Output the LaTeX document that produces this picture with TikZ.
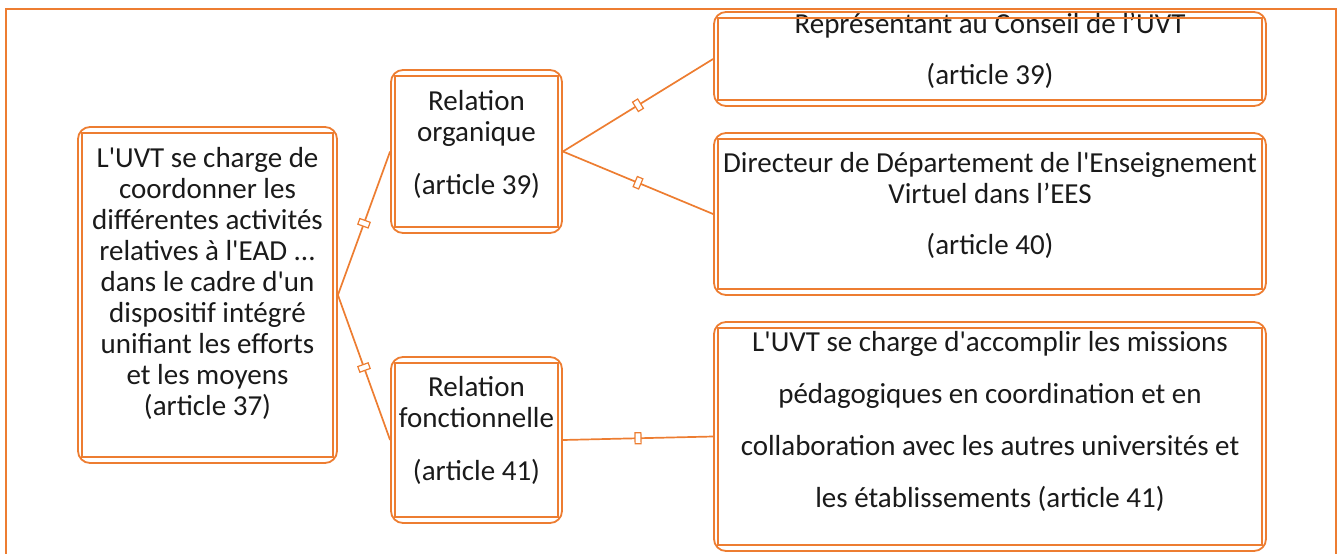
\documentclass[tikz,border=0pt]{standalone}
\usepackage{fontspec}
\setmainfont{Carlito}[Ligatures=TeXOff]
\usepackage{tikz}
\usetikzlibrary{positioning}
\definecolor{uvtorange}{HTML}{ED7D31}
\definecolor{ink}{HTML}{1A1A1A}

\tikzset{
  box/.style={draw=uvtorange, line width=1.8pt, rounded corners=12pt, align=center, text=ink, inner sep=0pt},
  innerline/.style={draw=uvtorange, line width=1.3pt},
  link/.style={draw=uvtorange, line width=1.7pt},
  marker/.style={draw=uvtorange, fill=white, line width=1.2pt, sharp corners, sloped, minimum width=6pt, minimum height=11pt, inner sep=0pt}
}

\begin{document}
\begin{tikzpicture}[x=1pt, y=-1pt, font=\fontsize{29}{31}\selectfont]
  \useasboundingbox (0,0) rectangle (1341,554);
  \draw[draw=uvtorange, line width=2pt] (6,600) |- (1336,9) -- (1336,600);

  \node[box, minimum width=259pt, minimum height=336pt, text depth=28pt] (uvt) at (207.5,295)
    {L'UVT se charge de\\coordonner les\\différentes activités\\relatives à l'EAD ...\\dans le cadre d'un\\dispositif intégré\\unifiant les efforts\\et les moyens\\(article 37)};
  \node[box, minimum width=171pt, minimum height=163pt, text depth=19pt] (org) at (476.5,151.5)
    {Relation\\organique\\[22pt](article 39)};
  \node[box, minimum width=171pt, minimum height=166pt, text depth=23pt] (fct) at (476.5,440)
    {Relation\\fonctionnelle\\[22pt](article 41)};
  \node[box, minimum width=552pt, minimum height=94pt, text depth=20pt] (cons) at (990,59)
    {Représentant au Conseil de l’UVT\\[20pt](article 39)};
  \node[box, minimum width=552pt, minimum height=162pt, text depth=21pt] (dir) at (990,214)
    {Directeur de Département de l'Enseignement\\Virtuel dans l’EES\\[20pt](article 40)};
  \node[box, minimum width=552pt, minimum height=229pt, text depth=35pt] (miss) at (990,436.5)
    {L'UVT se charge d'accomplir les missions\\[21pt]pédagogiques en coordination et en\\[21pt]collaboration avec les autres universités et\\[21pt]les établissements (article 41)};

  % second outline of each box
  \foreach \b in {uvt,org,fct,cons,dir,miss}
    \path[innerline] ([xshift=5pt,yshift=-7pt]\b.north west) rectangle ([xshift=-5pt,yshift=7pt]\b.south east);

  \path
  (uvt.east) edge[link] node[marker] {} (org.west)
  (uvt.east) edge[link] node[marker] {} (fct.west)
  (org.east) edge[link] node[marker] {} (cons.west)
  (org.east) edge[link] node[marker] {} (dir.west)
  (fct.east) edge[link] node[marker] {} (miss.west);
\end{tikzpicture}
\end{document}
